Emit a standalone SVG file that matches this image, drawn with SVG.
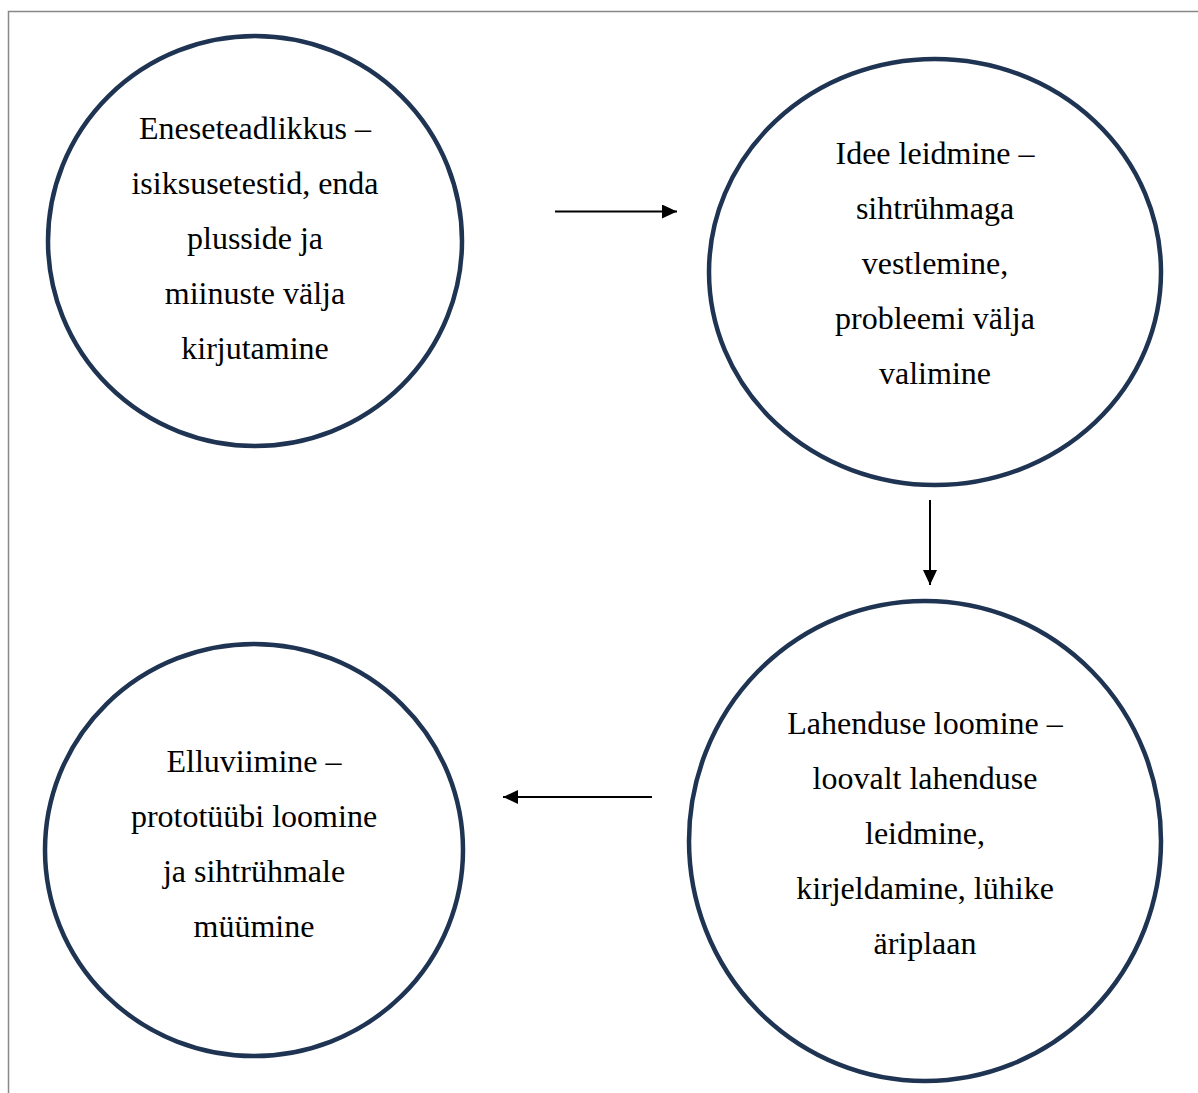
<svg xmlns="http://www.w3.org/2000/svg" width="1198" height="1093" viewBox="0 0 1198 1093">
<style>
.node{fill:#fff;stroke:#1e3452;stroke-width:4.5}
.t{font-family:"Liberation Serif","Times New Roman",serif;font-size:32px;fill:#000;text-anchor:middle}
.edge{stroke:#000;stroke-width:2;fill:none}
</style>
<defs>
<marker id="ah" viewBox="0 0 15 14" refX="15" refY="7" markerWidth="15" markerHeight="14" markerUnits="userSpaceOnUse" orient="auto">
<path d="M0,0 L15,7 L0,14 Z" fill="#000"/>
</marker>
</defs>
<rect width="1198" height="1093" fill="#fff"/>
<path d="M8.5,1093 V11.5 H1198" fill="none" stroke="#888" stroke-width="1.5"/>
<g id="n1">
<ellipse class="node" cx="255" cy="241" rx="207" ry="205"/>
<text class="t" x="255" y="139">Eneseteadlikkus –</text>
<text class="t" x="255" y="194">isiksusetestid, enda</text>
<text class="t" x="255" y="249">plusside ja</text>
<text class="t" x="255" y="304">miinuste välja</text>
<text class="t" x="255" y="359">kirjutamine</text>
</g>
<g id="n2">
<ellipse class="node" cx="935" cy="272" rx="226" ry="213"/>
<text class="t" x="935" y="164">Idee leidmine –</text>
<text class="t" x="935" y="219">sihtrühmaga</text>
<text class="t" x="935" y="274">vestlemine,</text>
<text class="t" x="935" y="329">probleemi välja</text>
<text class="t" x="935" y="384">valimine</text>
</g>
<g id="n3">
<ellipse class="node" cx="925" cy="841" rx="236" ry="240"/>
<text class="t" x="925" y="734">Lahenduse loomine –</text>
<text class="t" x="925" y="789">loovalt lahenduse</text>
<text class="t" x="925" y="844">leidmine,</text>
<text class="t" x="925" y="899">kirjeldamine, lühike</text>
<text class="t" x="925" y="954">äriplaan</text>
</g>
<g id="n4">
<ellipse class="node" cx="254" cy="850" rx="209" ry="206"/>
<text class="t" x="254" y="772">Elluviimine –</text>
<text class="t" x="254" y="827">prototüübi loomine</text>
<text class="t" x="254" y="882">ja sihtrühmale</text>
<text class="t" x="254" y="937">müümine</text>
</g>
<g id="edges">
<line class="edge" x1="555" y1="211.5" x2="677" y2="211.5" marker-end="url(#ah)"/>
<line class="edge" x1="930" y1="500" x2="930" y2="585" marker-end="url(#ah)"/>
<line class="edge" x1="652" y1="797" x2="503" y2="797" marker-end="url(#ah)"/>
</g>
</svg>
